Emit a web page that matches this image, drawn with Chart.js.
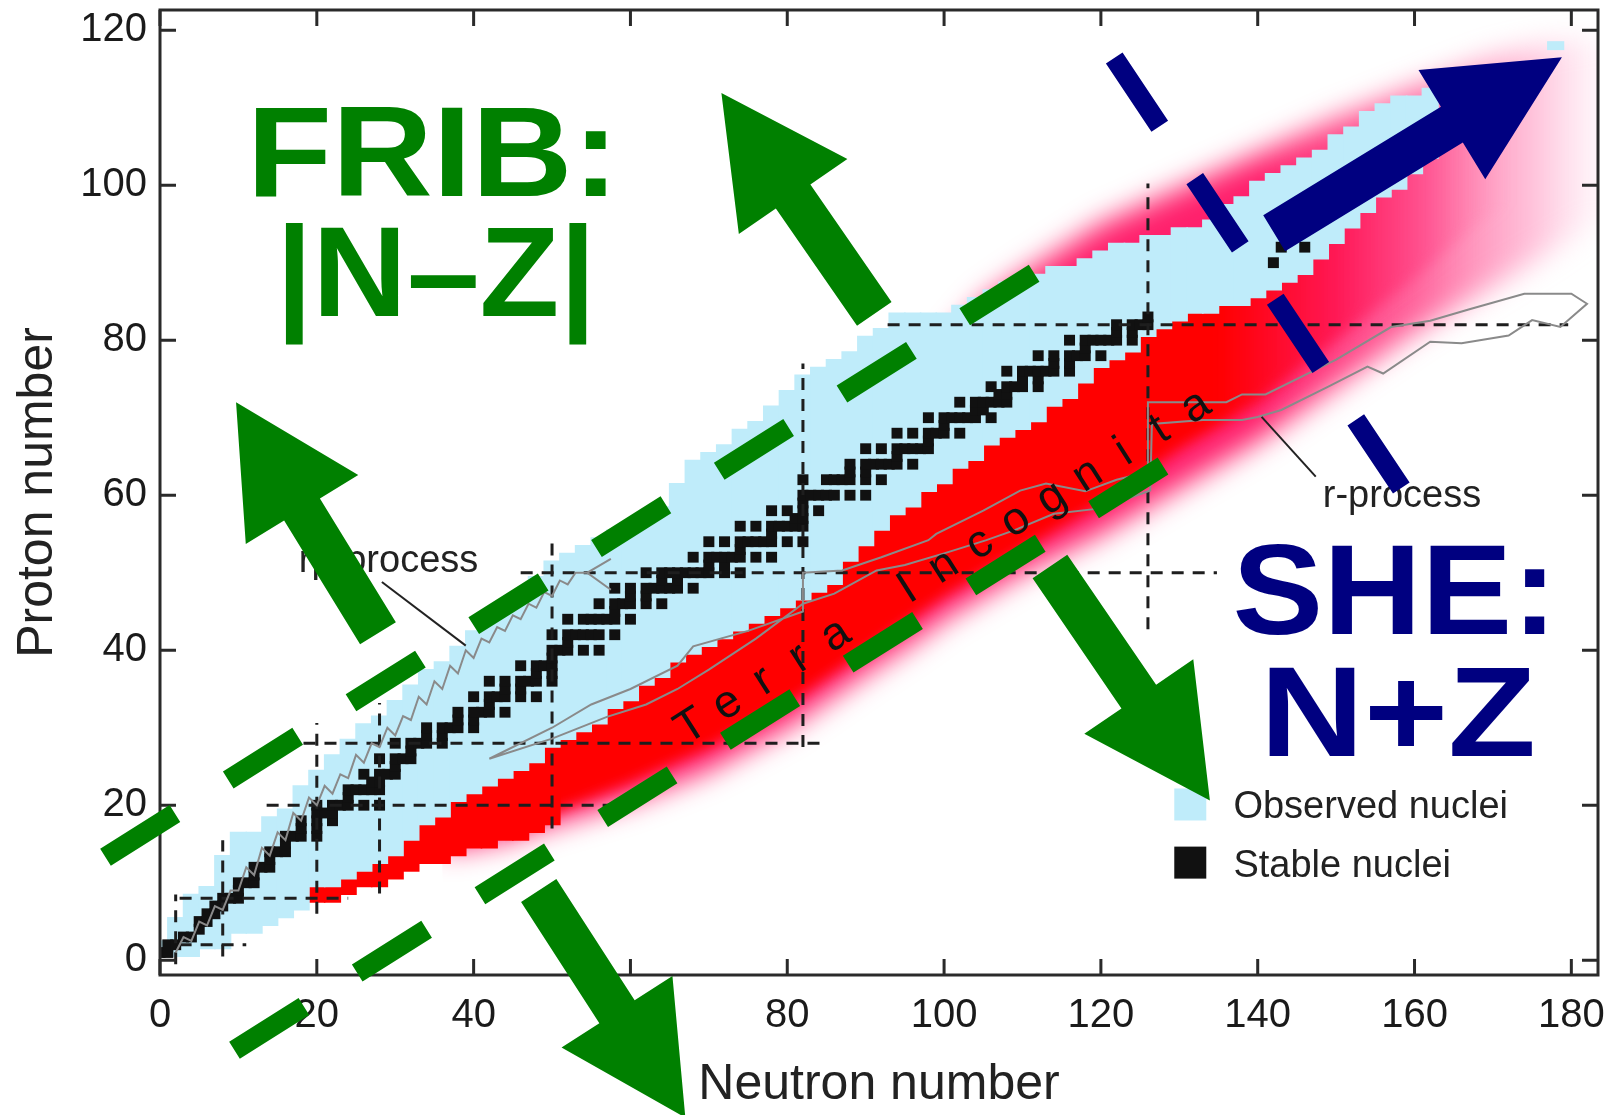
<!DOCTYPE html>
<html>
<head>
<meta charset="utf-8">
<title>Chart of nuclides - FRIB / SHE</title>
<script src="https://cdn.jsdelivr.net/npm/chart.js@4.4.0/dist/chart.umd.min.js"></script>
<style>
  html, body { margin: 0; padding: 0; background: #fff; }
  canvas { display: block; }
</style>
</head>
<body>
<canvas id="chart" width="1617" height="1115"></canvas>
<script>
// values, N = neutron number, Z = proton number
const xTicks = [0, 20, 40, 60, 80, 100, 120, 140, 160, 180];
const yTicks = [0, 20, 40, 60, 80, 100, 120];

// observed nuclei, lowest and highest Z for every second N
const obsN = [0, 2, 4, 6, 8, 10, 12, 14, 16, 18, 20, 22, 24, 26, 28, 30, 32, 34, 36, 38,
  40, 42, 44, 46, 48, 50, 52, 54, 56, 58, 60, 62, 64, 66, 68, 70, 72, 74, 76, 78,
  80, 82, 84, 86, 88, 90, 92, 94, 96, 98, 100, 102, 104, 106, 108, 110, 112, 114, 116, 118,
  120, 122, 124, 126, 128, 130, 132, 134, 136, 138, 140, 142, 144, 146, 148, 150, 152, 154, 156, 158,
  160, 162, 178];
const obsLo = [1, 1, 1, 2, 2, 4, 4, 5, 6, 7, 10, 10, 11, 12, 13, 14, 16, 18, 19, 21,
  22, 23, 24, 25, 26, 28, 29, 30, 31, 33, 34, 36, 37, 39, 40, 41, 42, 43, 44, 45,
  46, 47, 48, 49, 52, 54, 56, 58, 59, 61, 62, 64, 65, 67, 68, 69, 70, 72, 73, 75,
  77, 78, 79, 81, 82, 83, 84, 84, 85, 85, 86, 87, 88, 89, 91, 93, 95, 97, 99, 100,
  102, 104, 118];
const obsHi = [2, 5, 8, 9, 13, 16, 16, 18, 19, 22, 24, 26, 28, 30, 31, 33, 35, 37, 38, 40,
  42, 43, 45, 47, 49, 51, 52, 53, 54, 55, 56, 57, 58, 61, 64, 65, 66, 68, 69, 71,
  73, 75, 76, 77, 78, 80, 81, 83, 83, 83, 83, 84, 85, 86, 87, 88, 88, 89, 89, 90,
  91, 92, 92, 93, 93, 94, 94, 95, 97, 98, 100, 101, 102, 103, 104, 106, 107, 109, 110, 111,
  111, 112, 118];

// crisp red cells on the light neutron-rich side (lowest Z)
const redN = [20, 22, 24, 26, 28, 30, 32, 34, 36, 38, 40, 42, 44, 46, 48, 50];
const redLo = [8, 8, 9, 10, 10, 11, 12, 13, 13, 14, 15, 15, 16, 16, 17, 18];

// soft terra incognita band: pink halo and red core
const haloN = [36, 44, 50, 60, 70, 80, 90, 96, 100, 105, 110, 120, 130, 140, 150, 160, 170, 178, 184];
const haloLo = [14, 15.5, 17.5, 20.5, 24.5, 30, 37, 41, 44, 47, 50, 55, 61, 67, 74, 81, 87, 92, 96];
const haloHi = [22, 28, 34, 42, 50, 58, 68, 74, 79, 85, 88.5, 95, 99.5, 104, 108.5, 112.5, 116.5, 118.5, 119];
const coreN = [44, 50, 60, 70, 80, 90, 100, 110, 120, 130, 140, 150, 160, 168, 176];
const coreLo = [16.5, 19, 23, 27.5, 33, 40, 47, 53, 59, 66, 72, 80, 88, 95, 100];
const coreHi = [24, 30, 38, 45, 52, 60, 68, 75, 83, 88, 93, 100, 105, 108, 112];

// stable nuclei: for each Z the stable neutron numbers
const stableZ = [1, 2, 3, 4, 5, 6, 7, 8, 9, 10, 11, 12, 13, 14, 15, 16, 17, 18, 19, 20,
  21, 22, 23, 24, 25, 26, 27, 28, 29, 30, 31, 32, 33, 34, 35, 36, 37, 38, 39, 40,
  41, 42, 44, 45, 46, 47, 48, 49, 50, 51, 52, 53, 54, 55, 56, 57, 58, 59, 60, 62,
  63, 64, 65, 66, 67, 68, 69, 70, 71, 72, 73, 74, 75, 76, 77, 78, 79, 80, 81, 82,
  83, 90, 92];
const stableN = [
  [0, 1], [1, 2], [3, 4], [5], [5, 6], [6, 7], [7, 8], [8, 9, 10], [10], [10, 11, 12],
  [12], [12, 13, 14], [14], [14, 15, 16], [16], [16, 17, 18, 20], [18, 20], [18, 20, 22], [20, 21, 22], [20, 22, 23, 24, 26, 28],
  [24], [24, 25, 26, 27, 28], [27, 28], [26, 28, 29, 30], [30], [28, 30, 31, 32], [32], [30, 32, 33, 34, 36], [34, 36], [34, 36, 37, 38, 40],
  [38, 40], [38, 40, 41, 42, 44], [42], [40, 42, 43, 44, 46, 48], [44, 46], [42, 44, 46, 47, 48, 50], [48, 50], [46, 48, 49, 50], [50], [50, 51, 52, 54, 56],
  [52], [50, 52, 53, 54, 55, 56, 58], [52, 54, 55, 56, 57, 58, 60], [58], [56, 58, 59, 60, 62, 64], [60, 62], [58, 60, 62, 63, 64, 65, 66, 68], [64, 66], [62, 64, 65, 66, 67, 68, 69, 70, 72, 74], [70, 72],
  [68, 70, 71, 72, 73, 74, 76, 78], [74], [70, 72, 74, 75, 76, 77, 78, 80, 82], [78], [74, 76, 78, 79, 80, 81, 82], [81, 82], [78, 80, 82, 84], [82], [82, 83, 84, 85, 86, 88, 90], [82, 85, 86, 87, 88, 90, 92],
  [88, 90], [88, 90, 91, 92, 93, 94, 96], [94], [90, 92, 94, 95, 96, 97, 98], [98], [94, 96, 98, 99, 100, 102], [100], [98, 100, 101, 102, 103, 104, 106], [104, 105], [102, 104, 105, 106, 107, 108],
  [107, 108], [106, 108, 109, 110, 112], [110, 112], [108, 110, 111, 112, 113, 114, 116], [114, 116], [112, 114, 116, 117, 118, 120], [118], [116, 118, 119, 120, 121, 122, 124], [122, 124], [122, 124, 125, 126],
  [126], [142], [143, 146]
];

// magic numbers, dashed lines
const magicN = [2, 8, 20, 28, 50, 82, 126];
const magicNZ = [[-0.5, 8.5], [0.5, 15.5], [6, 30.6], [8.6, 33.2], [17, 54], [27.5, 77], [42.7, 100.2]];
const magicZ = [2, 8, 20, 28, 50, 82];
const magicZN = [[2.5, 11], [2.5, 24], [13.6, 58.5], [18.3, 84.2], [46, 134.8], [92.8, 179.6]];

// rp-process and r-process paths
const rpPath = [[2, 1], [3, 3], [4, 2.5], [5, 5], [6, 4.5], [7, 7], [8, 6.5], [9, 9], [10, 9], [11, 12],
  [12, 11], [13, 14.5], [14, 13.5], [15, 16.5], [16, 15.5], [17, 19], [18, 18], [19, 21], [20, 20], [21, 22.5],
  [22, 21.5], [23, 24], [24, 23.5], [25, 26.5], [26, 25.5], [27, 28], [28, 27.5], [29, 30], [30, 29], [31, 31.5],
  [32, 31], [33, 34], [34, 33], [35, 36], [36, 35], [37, 38], [38, 37], [39, 40], [40, 39], [41, 41.5],
  [42, 41], [43, 43], [44, 42.5], [45, 44.5], [46, 44], [47, 46], [48, 45.5], [49, 47.5], [50, 47], [51, 49],
  [52, 48.5], [53, 50], [54.5, 50], [57.5, 51.8], [54.5, 50], [57.5, 47.8]];
const rPath = [[42, 26], [50, 30], [55, 33], [60, 35], [66, 38], [68, 40.5], [75, 42.5], [82, 45], [82, 50], [87, 50.3],
  [92, 52], [98, 54.2], [99, 55], [105, 58], [109.7, 60.6], [113, 61.5], [118, 60.5], [122, 62], [126, 63], [126, 72],
  [136, 72], [138, 73], [141, 73], [146, 75.5], [150, 77.5], [157, 81.7], [162, 82.5], [167, 84], [174, 86], [180, 86],
  [182, 84.7], [178.6, 81.7], [175, 82.6], [172, 80.6], [166, 79.6], [162, 79.8], [156, 75.7], [154, 76.6], [149, 74], [143, 71],
  [140, 70.1], [138, 69.7], [133, 69.7], [126.5, 69.2], [126.3, 60.6], [120, 58.3], [114, 57.6], [109, 55.5], [105.4, 54.2], [100, 52.5],
  [95, 51], [91.4, 50.3], [86, 47.3], [82, 46], [76, 41.5], [70, 37.5], [66, 35], [62, 33], [57, 31.4], [50, 28.6], [42, 26]];
const rpLeader = [[28.3, 48.8], [39, 40.6]];
const rLeader = [[140.5, 70.1], [147.4, 62.4]];

// annotation overlay
const fribUpper = [[-6.95, 13.3], [112.2, 89.1]];
const fribLower = [[9.5, -11.6], [128.6, 64.2]];
const sheDash = [[121.7, 116.4], [158.4, 60.8]];
const greenArrowTails = [[91.1, 83.4], [27.8, 42.2], [113.5, 50.8], [48.3, 9.0]];
const greenArrowTips = [[71.6, 111.9], [9.7, 72.0], [133.9, 20.6], [67.0, -20.3]];
const navyArrowTail = [142.1, 93.8];
const navyArrowTip = [178.8, 116.5];

const FONT = "'Liberation Sans', Arial, Helvetica, sans-serif";
const GREEN = '#008000';
const NAVY = '#000080';
const OBS_BLUE = '#bfecfa';

const xy = (ns, zs) => ns.map((n, i) => ({x: n, y: zs[i]}));
const pairs = list => list.map(([x, y]) => ({x, y}));

const haloStops = [[0, 'rgba(255,20,100,0.95)'], [140, 'rgba(255,20,100,0.95)'], [160, 'rgba(255,60,130,0.8)'],
  [175, 'rgba(255,130,180,0.5)'], [184, 'rgba(255,200,225,0.15)']];
const coreStops = [[0, '#ff0000'], [135, '#ff0000'], [150, 'rgba(255,20,80,0.9)'], [162, 'rgba(255,60,130,0.45)'],
  [172, 'rgba(255,120,170,0)'], [176, 'rgba(255,120,170,0)']];

function xGradient(chart, stops) {
  const {ctx, chartArea, scales} = chart;
  if (!chartArea || !scales.x) return stops[0][1];
  const x0 = scales.x.getPixelForValue(stops[0][0]);
  const x1 = scales.x.getPixelForValue(stops[stops.length - 1][0]);
  const g = ctx.createLinearGradient(x0, 0, x1, 0);
  stops.forEach(([n, c]) => g.addColorStop((scales.x.getPixelForValue(n) - x0) / (x1 - x0), c));
  return g;
}

const datasets = [];
datasets.push({type: 'line', label: 'halo', data: xy(haloN, haloLo), fill: 1,
  backgroundColor: c => xGradient(c.chart, haloStops), borderWidth: 0, borderColor: 'rgba(0,0,0,0)', pointRadius: 0, order: 100});
datasets.push({type: 'line', label: 'haloTop', data: xy(haloN, haloHi),
  borderWidth: 0, borderColor: 'rgba(0,0,0,0)', pointRadius: 0, order: 101});
datasets.push({type: 'line', label: 'core', data: xy(coreN, coreLo), fill: 3,
  backgroundColor: c => xGradient(c.chart, coreStops), borderWidth: 0, borderColor: 'rgba(0,0,0,0)', pointRadius: 0, order: 95});
datasets.push({type: 'line', label: 'coreTop', data: xy(coreN, coreHi),
  borderWidth: 0, borderColor: 'rgba(0,0,0,0)', pointRadius: 0, order: 96});

const cellBars = {type: 'bar', grouped: false, categoryPercentage: 1, borderWidth: 0, inflateAmount: 0.6};
datasets.push({...cellBars, label: 'red',
  data: redN.map((n, i) => ({x: n, y: [redLo[i] - 0.5, obsLo[obsN.indexOf(n)]]})),
  backgroundColor: '#ff0000', barPercentage: 2.04, order: 90});
datasets.push({...cellBars, label: 'Observed nuclei',
  data: obsN.map((n, i) => ({x: n, y: [obsLo[i] - 0.5, obsHi[i] + 0.5]})),
  backgroundColor: OBS_BLUE, barPercentage: 2.04, order: 85});

const stableCells = [];
stableZ.forEach((z, i) => stableN[i].forEach(n => stableCells.push({x: n, y: [z - 0.62, z + 0.62]})));
datasets.push({...cellBars, label: 'Stable nuclei', data: stableCells,
  backgroundColor: '#111111', barPercentage: 1.25, order: 80});

const dashed = {type: 'line', borderColor: '#1e1e1e', borderWidth: 3, borderDash: [12, 9], pointRadius: 0, order: 70};
magicN.forEach((n, i) => datasets.push({...dashed, label: 'N' + n,
  data: [{x: n, y: magicNZ[i][0]}, {x: n, y: magicNZ[i][1]}]}));
magicZ.forEach((z, i) => datasets.push({...dashed, label: 'Z' + z,
  data: [{x: magicZN[i][0], y: z}, {x: magicZN[i][1], y: z}]}));

datasets.push({type: 'line', label: 'rp-process', data: pairs(rpPath), borderColor: '#8a8a8a', borderWidth: 2, pointRadius: 0, order: 60});
datasets.push({type: 'line', label: 'r-process', data: pairs(rPath), borderColor: '#8a8a8a', borderWidth: 2, pointRadius: 0, order: 60});
datasets.push({type: 'line', label: 'rpLeader', data: pairs(rpLeader), borderColor: '#222', borderWidth: 2, pointRadius: 0, order: 55});
datasets.push({type: 'line', label: 'rLeader', data: pairs(rLeader), borderColor: '#222', borderWidth: 2, pointRadius: 0, order: 55});

const bigDash = {type: 'line', borderWidth: 20, borderDash: [82, 63], borderCapStyle: 'butt', pointRadius: 0, clip: false};
datasets.push({...bigDash, label: 'fribUpper', data: pairs(fribUpper), borderColor: GREEN, order: 40});
datasets.push({...bigDash, label: 'fribLower', data: pairs(fribLower), borderColor: GREEN, order: 39});
datasets.push({...bigDash, label: 'sheDash', data: pairs(sheDash), borderColor: NAVY, order: 38});

function drawArrow(ctx, x0, y0, x1, y1, shaft, headW, headL) {
  const len = Math.hypot(x1 - x0, y1 - y0);
  const ux = (x1 - x0) / len, uy = (y1 - y0) / len;
  const px = -uy, py = ux;
  const bx = x1 - ux * headL, by = y1 - uy * headL;
  ctx.beginPath();
  ctx.moveTo(x0 + px * shaft / 2, y0 + py * shaft / 2);
  ctx.lineTo(bx + px * shaft / 2, by + py * shaft / 2);
  ctx.lineTo(bx + px * headW / 2, by + py * headW / 2);
  ctx.lineTo(x1, y1);
  ctx.lineTo(bx - px * headW / 2, by - py * headW / 2);
  ctx.lineTo(bx - px * shaft / 2, by - py * shaft / 2);
  ctx.lineTo(x0 - px * shaft / 2, y0 - py * shaft / 2);
  ctx.closePath();
  ctx.fill();
}

function stretchedText(ctx, text, cx, baseline, width, color) {
  ctx.font = 'bold 128px ' + FONT;
  const s = width / ctx.measureText(text).width;
  ctx.save();
  ctx.translate(cx, baseline);
  ctx.scale(s, 1);
  ctx.textAlign = 'center';
  ctx.textBaseline = 'alphabetic';
  ctx.fillStyle = color;
  ctx.fillText(text, 0, 0);
  ctx.restore();
}

// frame, inward ticks, small labels and legend (under the overlay)
function drawFrame(chart) {
  const {ctx, chartArea: a, scales: {x, y}} = chart;
  ctx.save();
  ctx.filter = 'none';
  ctx.strokeStyle = '#2a2a2a';
  ctx.lineWidth = 3;
  ctx.strokeRect(a.left, a.top, a.right - a.left, a.bottom - a.top);
  ctx.beginPath();
  xTicks.forEach(v => {
    const p = x.getPixelForValue(v);
    ctx.moveTo(p, a.bottom); ctx.lineTo(p, a.bottom - 16);
    ctx.moveTo(p, a.top); ctx.lineTo(p, a.top + 16);
  });
  yTicks.forEach(v => {
    const p = y.getPixelForValue(v);
    ctx.moveTo(a.left, p); ctx.lineTo(a.left + 16, p);
    ctx.moveTo(a.right, p); ctx.lineTo(a.right - 16, p);
  });
  ctx.stroke();

  ctx.fillStyle = '#222';
  ctx.font = '38px ' + FONT;
  ctx.textAlign = 'left';
  ctx.textBaseline = 'alphabetic';
  ctx.fillText('rp-process', x.getPixelForValue(17.7), y.getPixelForValue(50.1));
  ctx.fillText('r-process', x.getPixelForValue(148.3), y.getPixelForValue(58.5));

  // Terra Incognita, spaced letters along the band
  const t0 = [x.getPixelForValue(67.8), y.getPixelForValue(30.1)];
  const t1 = [x.getPixelForValue(132.1), y.getPixelForValue(71.4)];
  const word = 'Terra Incognita';
  const ang = Math.atan2(t1[1] - t0[1], t1[0] - t0[0]);
  ctx.font = '46px ' + FONT;
  ctx.fillStyle = '#111';
  ctx.textAlign = 'center';
  ctx.textBaseline = 'middle';
  for (let i = 0; i < word.length; i++) {
    const f = i / (word.length - 1);
    ctx.save();
    ctx.translate(t0[0] + (t1[0] - t0[0]) * f, t0[1] + (t1[1] - t0[1]) * f);
    ctx.rotate(ang);
    ctx.fillText(word[i], 0, 0);
    ctx.restore();
  }

  // legend
  const lx = x.getPixelForValue(131.4);
  [[20.1, 18.3, OBS_BLUE, 'Observed nuclei'], [12.6, 10.75, '#111', 'Stable nuclei']].forEach(([zc, zb, col, txt]) => {
    const cy = y.getPixelForValue(zc);
    ctx.fillStyle = col;
    ctx.fillRect(lx - 16, cy - 16, 32, 32);
    ctx.fillStyle = '#222';
    ctx.font = '38px ' + FONT;
    ctx.textAlign = 'left';
    ctx.textBaseline = 'alphabetic';
    ctx.fillText(txt, x.getPixelForValue(136.9), y.getPixelForValue(zb));
  });
  ctx.restore();
}

function drawOverlay(chart) {
  const {ctx, scales: {x, y}} = chart;
  ctx.save();
  ctx.filter = 'none';
  ctx.fillStyle = GREEN;
  greenArrowTails.forEach((t, i) => {
    const p = greenArrowTips[i];
    drawArrow(ctx, x.getPixelForValue(t[0]), y.getPixelForValue(t[1]),
      x.getPixelForValue(p[0]), y.getPixelForValue(p[1]), 42, 132, 126);
  });
  ctx.fillStyle = NAVY;
  drawArrow(ctx, x.getPixelForValue(navyArrowTail[0]), y.getPixelForValue(navyArrowTail[1]),
    x.getPixelForValue(navyArrowTip[0]), y.getPixelForValue(navyArrowTip[1]), 42, 128, 129);

  stretchedText(ctx, 'FRIB:', x.getPixelForValue(34.8), y.getPixelForValue(98.6), 372, GREEN);
  stretchedText(ctx, '|N\u2013Z|', x.getPixelForValue(35.2), y.getPixelForValue(83.1), 320, GREEN);
  stretchedText(ctx, 'SHE:', x.getPixelForValue(157.5), y.getPixelForValue(42.1), 325, NAVY);
  stretchedText(ctx, 'N+Z', x.getPixelForValue(157.9), y.getPixelForValue(26.3), 276, NAVY);
  ctx.restore();
}

const overlayPlugin = {
  id: 'overlay',
  beforeDatasetsDraw(chart) { chart.ctx.filter = 'blur(14px)'; },
  afterDatasetDraw(chart, args) {
    const label = chart.data.datasets[args.index].label;
    if (label === 'halo') chart.ctx.filter = 'blur(7px)';
    else if (label === 'core') chart.ctx.filter = 'none';
  },
  beforeDatasetDraw(chart, args) {
    if (chart.data.datasets[args.index].label === 'fribUpper') drawFrame(chart);
  },
  afterDatasetsDraw(chart) {
    chart.ctx.filter = 'none';
    drawOverlay(chart);
  }
};

const tickFont = {family: FONT, size: 40};
const titleFont = {family: FONT, size: 50};

new Chart(document.getElementById('chart'), {
  type: 'line',
  data: {datasets},
  options: {
    responsive: false,
    devicePixelRatio: 1,
    animation: false,
    layout: {padding: {left: 0, right: 19, top: 10, bottom: 0}},
    plugins: {legend: {display: false}, tooltip: {enabled: false}},
    scales: {
      x: {
        type: 'linear', min: 0, max: 183.4, offset: false,
        grid: {display: false, drawTicks: false},
        border: {display: false},
        ticks: {font: tickFont, color: '#1a1a1a', padding: 17, autoSkip: false, maxRotation: 0, includeBounds: false},
        afterBuildTicks: s => { s.ticks = xTicks.map(v => ({value: v})); },
        afterFit: s => { s.height = 140; s.paddingLeft = 0; s.paddingRight = 0; },
        title: {display: true, text: 'Neutron number', font: titleFont, color: '#222', padding: {top: 0, bottom: 0}}
      },
      y: {
        type: 'linear', min: -1.9, max: 122.6,
        grid: {display: false, drawTicks: false},
        border: {display: false},
        ticks: {font: tickFont, color: '#1a1a1a', padding: 13, autoSkip: false, includeBounds: false},
        afterBuildTicks: s => { s.ticks = yTicks.map(v => ({value: v})); },
        afterFit: s => { s.width = 160; s.paddingTop = 0; s.paddingBottom = 0; },
        title: {display: true, text: 'Proton number', font: titleFont, color: '#222', padding: {top: 8, bottom: 0}}
      }
    }
  },
  plugins: [overlayPlugin]
});
</script>
</body>
</html>
